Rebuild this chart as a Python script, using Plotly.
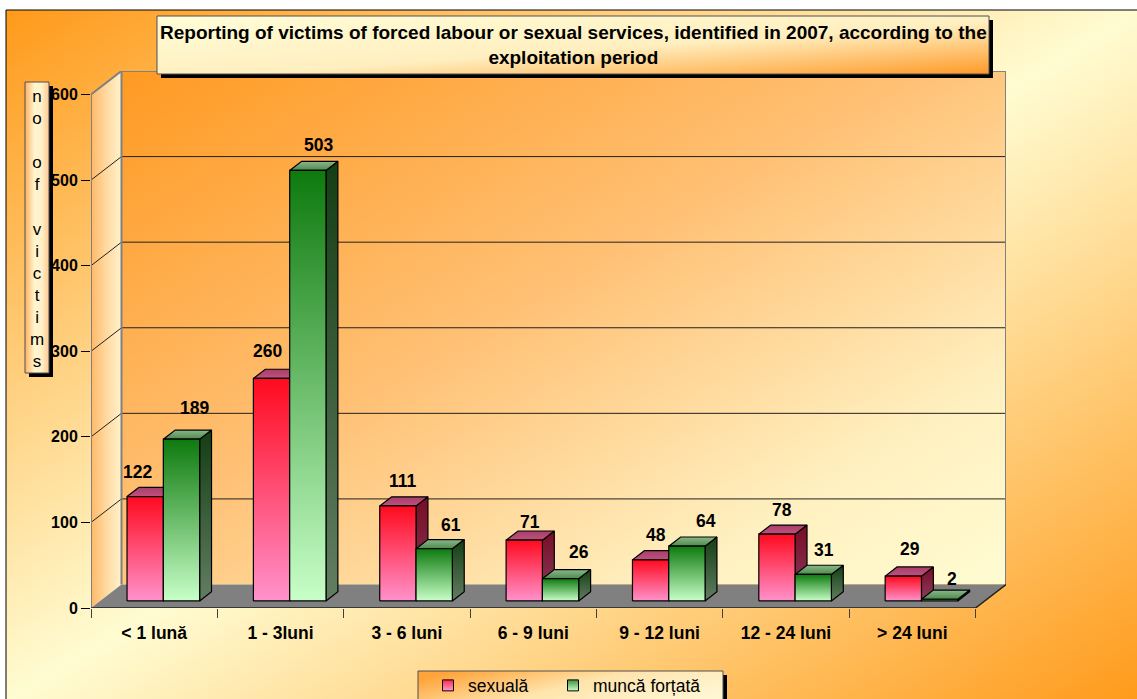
import base64
import plotly.graph_objects as go

# ---------------- data ----------------
categories = ["< 1 lună", "1 - 3luni", "3 - 6 luni", "6 - 9 luni",
              "9 - 12 luni", "12 - 24 luni", "> 24 luni"]
sexuala = [122, 260, 111, 71, 48, 78, 29]
munca_fortata = [189, 503, 61, 26, 64, 31, 2]
series_names = ["sexuală", "muncă forțată"]
y_tick_values = [0, 100, 200, 300, 400, 500, 600]
title_text = ("Reporting of victims of forced labour or sexual services, identified in 2007, "
              "according to the<br>exploitation period")
y_title_text = "no of victims"

# label nudges (pixel styling, Excel collision avoidance)
label_dx_sex = [-13, -9, 0, 1, 0, 0, 2]
label_dx_mun = [0, -2, 4, 5, 6, -2, -1]
label_dy_sex = [0, 2, 0, -7, 0, -1, 2]
label_dy_mun = [6, 0, -1, 2, 0, -1, -5]

# ---------------- geometry ----------------
W, H = 1137, 699
ML, MR, MT, MB = 91, 131, 71, 91
PW, PH = W - ML - MR, H - MT - MB
DEPTH_PX_X, DEPTH_PX_Y = 30.5, 23.5
NCAT = len(categories)
YMAX = 600
cat_px = (PW - DEPTH_PX_X) / NCAT
DX = DEPTH_PX_X / cat_px
yscale = (PH - DEPTH_PX_Y) / YMAX
DY = DEPTH_PX_Y / yscale
BAR_W = 36.3 / cat_px
D0, D1 = 0.30, 0.69

FONT = "Arial, 'Liberation Sans', sans-serif"


def P(x, y, d):
    return x + d * DX, y + d * DY


def poly(pts):
    xs = [p[0] for p in pts] + [pts[0][0]]
    ys = [p[1] for p in pts] + [pts[0][1]]
    return xs, ys


def grad_uri(stops, x1=0, y1=0, x2=1, y2=1):
    st = "".join(f'<stop offset="{o}" stop-color="{c}"/>' for o, c in stops)
    svg = ('<svg xmlns="http://www.w3.org/2000/svg" width="100" height="100" '
           'viewBox="0 0 100 100" preserveAspectRatio="none">'
           f'<defs><linearGradient id="g" x1="{x1}" y1="{y1}" x2="{x2}" y2="{y2}">{st}'
           '</linearGradient></defs><rect x="0" y="0" width="100" height="100" fill="url(#g)"/></svg>')
    return "data:image/svg+xml;base64," + base64.b64encode(svg.encode()).decode()


def solid_uri(c):
    return grad_uri([(0, c), (1, c)])


def px_img(src, x0, y0, x1, y1, layer="above"):
    return dict(source=src, xref="paper", yref="paper",
                x=(x0 - ML) / PW, y=(H - MB - y0) / PH,
                sizex=(x1 - x0) / PW, sizey=(y1 - y0) / PH,
                xanchor="left", yanchor="top", sizing="stretch", layer=layer)


def px_rect(x0, y0, x1, y1, color="#404040", width=1):
    return dict(type="rect", xref="paper", yref="paper",
                x0=(x0 - ML) / PW, x1=(x1 - ML) / PW,
                y0=(H - MB - y0) / PH, y1=(H - MB - y1) / PH,
                line=dict(color=color, width=width), fillcolor="rgba(0,0,0,0)", layer="above")


fig = go.Figure()

# ---- side wall (left) ----
xs, ys = poly([P(0, 0, 0), P(0, YMAX, 0), P(0, YMAX, 1), P(0, 0, 1)])
fig.add_trace(go.Scatter(x=xs, y=ys, mode="none", fill="toself", showlegend=False, hoverinfo="skip",
                         fillgradient=dict(type="horizontal",
                                           colorscale=[[0, "#FFB868"], [0.5, "#FFD9A0"], [1, "#FFF2CC"]])))

# ---- floor ----
xs, ys = poly([P(0, 0, 0), P(NCAT, 0, 0), P(NCAT, 0, 1), P(0, 0, 1)])
fig.add_trace(go.Scatter(x=xs, y=ys, mode="none", fill="toself", fillcolor="#808080",
                         showlegend=False, hoverinfo="skip"))

# ---- gridlines ----
gx, gy = [], []
for v in y_tick_values[1:-1]:
    a, b, c = P(0, v, 0), P(0, v, 1), P(NCAT, v, 1)
    gx += [a[0], b[0], c[0], None]
    gy += [a[1], b[1], c[1], None]
fig.add_trace(go.Scatter(x=gx, y=gy, mode="lines", line=dict(color="#202020", width=1),
                         showlegend=False, hoverinfo="skip"))

# ---- wall borders (gray) ----
bx, by = [], []
for seg in [[P(0, 0, 0), P(0, YMAX, 0), P(0, YMAX, 1), P(NCAT, YMAX, 1), P(NCAT, 0, 1)],
            [P(0, 0, 1), P(0, YMAX, 1)]]:
    bx += [p[0] for p in seg] + [None]
    by += [p[1] for p in seg] + [None]
fig.add_trace(go.Scatter(x=bx, y=by, mode="lines", line=dict(color="#808080", width=2),
                         showlegend=False, hoverinfo="skip"))

# ---- floor front/right edges ----
seg = [P(0, 0, 0), P(NCAT, 0, 0), P(NCAT, 0, 1)]
fig.add_trace(go.Scatter(x=[p[0] for p in seg], y=[p[1] for p in seg], mode="lines",
                         line=dict(color="#202020", width=1.5), showlegend=False, hoverinfo="skip"))

# ---- bars ----
styles = {
    0: dict(front=[[0, "#FF92CC"], [1, "#FF0A1E"]], top=[[0, "#C05080"], [1, "#A84068"]],
            side=[[0, "#8A4060"], [1, "#780C24"]]),
    1: dict(front=[[0, "#C8FFC8"], [1, "#0E7A0E"]], top=[[0, "#4E8A4E"], [1, "#8AB88A"]],
            side=[[0, "#627E62"], [1, "#143E14"]]),
}
annotations = []
for k in range(NCAT):
    for s, vals in enumerate([sexuala, munca_fortata]):
        v = vals[k]
        x0 = k + 0.5 - BAR_W if s == 0 else k + 0.5
        x1 = x0 + BAR_W
        st = styles[s]
        faces = [
            ([P(x1, 0, D0), P(x1, 0, D1), P(x1, v, D1), P(x1, v, D0)], st["side"]),
            ([P(x0, v, D0), P(x1, v, D0), P(x1, v, D1), P(x0, v, D1)], st["top"]),
            ([P(x0, 0, D0), P(x1, 0, D0), P(x1, v, D0), P(x0, v, D0)], st["front"]),
        ]
        for pts, cs in faces:
            xs, ys = poly(pts)
            fig.add_trace(go.Scatter(x=xs, y=ys, mode="lines", fill="toself",
                                     line=dict(color="#000000", width=1.2),
                                     fillgradient=dict(type="vertical", colorscale=cs),
                                     showlegend=False, hoverinfo="skip"))
        cx, cy = P((x0 + x1) / 2, v, D0)
        dxn = (label_dx_sex if s == 0 else label_dx_mun)[k]
        dyn = (label_dy_sex if s == 0 else label_dy_mun)[k]
        annotations.append(dict(x=cx, y=cy, xref="x", yref="y", text=str(v), showarrow=False,
                                xshift=(5 if s == 0 else 13) + dxn, yshift=25 + dyn,
                                yanchor="middle", xanchor="center",
                                font=dict(family=FONT, size=17.5, color="#000", weight="bold")))

# ---- legend entries (one legend per series so each can sit where the reference has it) ----
fig.add_trace(go.Scatter(x=[None], y=[None], mode="markers", name=series_names[0], legend="legend",
                         marker=dict(symbol="square", size=11, color="#FF2848",
                                     gradient=dict(type="vertical", color="#FF9ACC"),
                                     line=dict(color="#000", width=1))))
fig.add_trace(go.Scatter(x=[None], y=[None], mode="markers", name=series_names[1], legend="legend2",
                         marker=dict(symbol="square", size=11, color="#3C903C",
                                     gradient=dict(type="vertical", color="#C8FFC8"),
                                     line=dict(color="#000", width=1))))

# ---- images (backgrounds / boxes) ----
images = [
    px_img(grad_uri([(0, "#FF9A1A"), (0.5, "#FFFCD2"), (1, "#FF9A1A")]), 6, 10, W + 3, H + 3, layer="below"),
    dict(source=grad_uri([(0, "#FF9A22"), (0.45, "#FFC074"), (0.8, "#FFF0C0"), (1, "#FFFCD2")]),
         xref="x", yref="y", x=DX, y=YMAX + DY, sizex=NCAT, sizey=YMAX,
         xanchor="left", yanchor="top", sizing="stretch", layer="below"),
    # title box
    px_img(solid_uri("#000000"), 161, 20, 993, 78),
    px_img(grad_uri([(0, "#FFFDD8"), (0.55, "#FFEFC0"), (1, "#FF9A28")]), 157, 16, 989, 74),
    # y title box
    px_img(solid_uri("#000000"), 29, 86, 53, 377),
    px_img(grad_uri([(0, "#FFB060"), (0.4, "#FFF6D0"), (0.7, "#FFF0C8"), (1, "#FFC890")], 0, 0, 1, 0),
           25, 82, 49, 373),
    # legend box
    px_img(solid_uri("#000000"), 422, 675, 727, 702),
    px_img(grad_uri([(0, "#FFA43A"), (0.5, "#FFE4AC"), (1, "#FFF6D2")], 0, 0.3, 1, 0.7), 418, 671, 723, 700),
]

shapes = [
    px_rect(6, 10, W + 5, H + 5, color="#000000", width=1),
    px_rect(157, 16, 989, 74, color="#505050", width=1),
    px_rect(25, 82, 49, 373, color="#505050", width=1),
    px_rect(418, 671, 723, 700, color="#505050", width=1),
]

annotations.append(dict(xref="paper", yref="paper", x=(573 - ML) / PW, y=(H - MB - 45) / PH,
                        text=title_text, showarrow=False, xanchor="center", yanchor="middle",
                        font=dict(family=FONT, size=19, color="#000", weight="bold")))
annotations.append(dict(xref="paper", yref="paper", x=(37 - ML) / PW, y=(H - MB - 229) / PH,
                        text="<br>".join(y_title_text), showarrow=False,
                        xanchor="center", yanchor="middle",
                        font=dict(family=FONT, size=17, color="#000")))

legend_common = dict(orientation="h", xanchor="left", yanchor="middle", bgcolor="rgba(0,0,0,0)",
                     borderwidth=0, font=dict(family=FONT, size=17.5, color="#000"), itemwidth=30)

fig.update_layout(
    width=W, height=H,
    margin=dict(l=ML, r=MR, t=MT, b=MB, autoexpand=False),
    paper_bgcolor="#FFFFFF", plot_bgcolor="rgba(0,0,0,0)",
    images=images, shapes=shapes, annotations=annotations,
    showlegend=True,
    legend=dict(x=(428 - ML) / PW, y=(H - MB - 685.5) / PH, **legend_common),
    legend2=dict(x=(553 - ML) / PW, y=(H - MB - 685.5) / PH, **legend_common),
    xaxis=dict(range=[0, NCAT + DX], showgrid=False, zeroline=False, showline=False,
               tickmode="array", tickvals=[k + 0.5 for k in range(NCAT)], ticktext=categories,
               ticks="", tickfont=dict(family=FONT, size=17.5, color="#000", weight="bold"),
               ticklabelstandoff=12,
               minor=dict(tickmode="array", tickvals=list(range(NCAT + 1)), ticks="outside",
                          ticklen=9, tickwidth=1, tickcolor="#404040", showgrid=False),
               fixedrange=True),
    yaxis=dict(range=[0, YMAX + DY], showgrid=False, zeroline=False, showline=False,
               tickmode="array", tickvals=y_tick_values, ticks="outside", ticklen=9,
               tickcolor="#000", tickwidth=1,
               tickfont=dict(family=FONT, size=16, color="#000", weight="bold"),
               fixedrange=True),
)

fig.write_html("out.html", config={"displayModeBar": False, "staticPlot": True},
               post_script="document.body.style.margin='0px';document.body.style.padding='0px';")
